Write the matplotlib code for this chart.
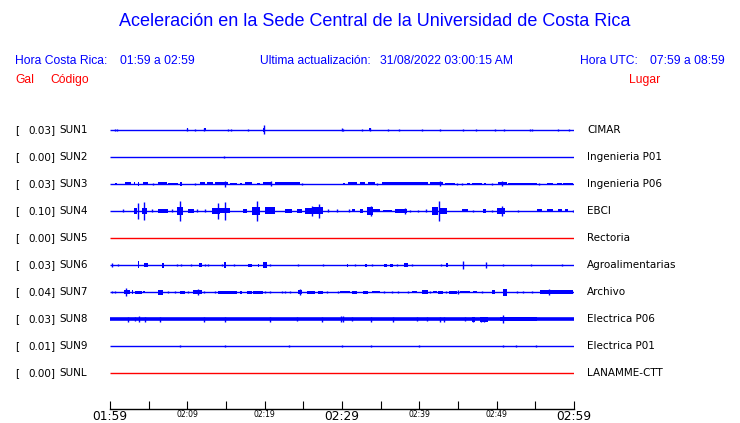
import matplotlib
matplotlib.use("Agg")
import matplotlib.pyplot as plt

# stations, top to bottom
codes = ["SUN1", "SUN2", "SUN3", "SUN4", "SUN5", "SUN6", "SUN7", "SUN8", "SUN9", "SUNL"]
peak_gal = [0.03, 0.00, 0.03, 0.10, 0.00, 0.03, 0.04, 0.03, 0.01, 0.00]
places = ["CIMAR", "Ingenieria P01", "Ingenieria P06", "EBCI", "Rectoria",
          "Agroalimentarias", "Archivo", "Electrica P06", "Electrica P01", "LANAMME-CTT"]
active = [True, True, True, True, False, True, True, True, True, False]

# time axis, minutes after 01:59
tick_minutes = list(range(0, 61, 5))
tick_labels = {0: "01:59", 10: "02:09", 20: "02:19", 30: "02:29",
               40: "02:39", 50: "02:49", 60: "02:59"}
big_labels = [0, 30, 60]

# spikes: (minute, half amplitude); bursts: (start, end, half amplitude)
spikes = {
    "SUN1": [(0.65, 1), (0.91, 1), (9.96, 1.5), (10.99, 1), (12.16, 1.5), (15.26, 1), (15.65, 1),
             (17.85, 1), (19.91, 4.5), (30.0, 1.5), (30.13, 1), (32.59, 1), (33.62, 1.5),
             (35.95, 1), (37.37, 1), (40.35, 0.8), (42.67, 1), (45.65, 1), (47.33, 1),
             (49.79, 1), (50.95, 1.2), (54.31, 1), (54.57, 1), (57.93, 1), (59.36, 1)],
    "SUN2": [(14.8, 1)],
    "SUN3": [(5.56, 1), (10.99, 1), (14.87, 3), (20.82, 2.5), (24.83, 1), (34.53, 1),
             (42.67, 2.5), (44.87, 1), (45.52, 1), (49.40, 1), (50.69, 2.5), (55.48, 1)],
    "SUN4": [(1.68, 1.5), (3.62, 8), (4.40, 9), (5.43, 1.5), (8.02, 1.5), (9.05, 10),
             (11.25, 1.5), (12.28, 1.5), (13.97, 8), (14.87, 9), (19.01, 10), (26.12, 5),
             (27.03, 7), (28.19, 1.5), (29.35, 1.5), (30.91, 1.5), (33.75, 5), (38.15, 3),
             (38.79, 1), (39.83, 1), (40.86, 1.5), (42.54, 10), (46.94, 1), (49.40, 1),
             (50.69, 5), (52.76, 1), (59.87, 1)],
    "SUN6": [(0.26, 2), (1.03, 1.5), (8.66, 1.5), (9.18, 1), (10.47, 1), (12.28, 1.5),
             (12.67, 1), (14.48, 1), (16.04, 1), (20.69, 1.5), (24.31, 1), (27.54, 1.5),
             (31.68, 1), (33.88, 1), (37.11, 1), (39.05, 1), (42.80, 1.5), (45.65, 4),
             (48.62, 3), (50.82, 1.5), (54.44, 1.5), (58.45, 1.5)],
    "SUN7": [(0.26, 1), (0.65, 1), (2.07, 4), (7.50, 1), (8.41, 1), (10.09, 1), (11.38, 3),
             (12.16, 1), (13.58, 1), (20.04, 1), (20.69, 1), (22.24, 1), (22.63, 1),
             (23.28, 1), (24.57, 3), (28.06, 1), (29.48, 1), (35.43, 1), (36.47, 1),
             (37.24, 1), (38.54, 1), (41.38, 1), (43.45, 1), (45.00, 2), (48.10, 1),
             (52.63, 1), (53.41, 1), (54.57, 1), (56.77, 3)],
    "SUN8": [(2.33, 2.5), (3.23, 2.2), (3.75, 3), (4.53, 2.5), (6.47, 2.5), (12.16, 2.5),
             (14.87, 2.5), (20.69, 2.5), (24.18, 2), (27.41, 2.5), (29.87, 3), (30.13, 3),
             (31.29, 2.2), (33.75, 2.5), (36.60, 2.5), (39.70, 2), (40.99, 2), (42.67, 2.5),
             (43.19, 2.5), (45.91, 2), (46.94, 2.5), (47.98, 2.5), (48.36, 2.5), (50.82, 4)],
    "SUN9": [(9.05, 1), (14.87, 1), (23.15, 1), (30.0, 1), (33.75, 1), (39.96, 1),
             (50.82, 1.2), (52.50, 1.2), (55.09, 1)],
}
bursts = {
    "SUN1": [(9.96, 10.09, 1.5), (12.10, 12.36, 1.5), (19.79, 20.05, 2), (33.55, 33.70, 1.5)],
    "SUN3": [(0.65, 0.91, 1), (1.94, 2.72, 1.5), (3.10, 3.23, 1.5), (3.62, 3.75, 2),
             (4.27, 4.91, 1.5), (6.21, 7.37, 1.5), (7.50, 8.79, 1.2), (9.05, 9.31, 2),
             (11.64, 12.28, 1.5), (12.54, 13.32, 1.5), (13.58, 15.26, 1.5), (15.52, 16.42, 1.2),
             (16.81, 17.07, 1.2), (17.46, 18.36, 1.5), (19.01, 19.40, 1.2), (19.79, 20.95, 1.5),
             (21.34, 24.57, 1.5), (30.13, 30.39, 1), (30.78, 31.94, 1.5), (32.33, 32.97, 1.5),
             (33.36, 34.27, 1.5), (35.17, 41.12, 1.5), (41.38, 43.06, 1.5), (43.32, 44.61, 1.2),
             (46.17, 46.55, 1.2), (46.81, 48.10, 1.2), (48.36, 48.62, 1.2), (50.17, 51.34, 1.5),
             (51.47, 55.22, 1.2), (56.51, 57.29, 1.2), (57.80, 58.45, 1.2), (58.58, 59.87, 1.2)],
    "SUN4": [(3.10, 3.49, 3), (4.14, 4.78, 3), (6.21, 7.50, 2), (8.66, 9.44, 4),
             (10.09, 10.86, 2), (13.19, 14.22, 3), (14.22, 15.52, 2.5), (17.20, 17.72, 2),
             (18.36, 19.40, 4), (20.04, 21.34, 3.5), (22.63, 23.54, 2), (24.18, 24.83, 2),
             (25.22, 26.12, 3), (26.25, 27.54, 3.5), (31.29, 31.68, 1.5), (32.33, 32.72, 2),
             (33.23, 34.01, 4), (34.01, 34.91, 1.5), (35.30, 36.47, 1.2), (36.85, 38.41, 2),
             (41.64, 42.41, 4), (42.67, 43.58, 3), (45.52, 46.29, 1.5), (48.23, 48.62, 2),
             (50.04, 51.08, 3), (55.22, 55.86, 1.5), (56.51, 57.29, 1.5), (57.93, 58.45, 1.5),
             (58.84, 59.23, 1.5)],
    "SUN6": [(3.62, 3.75, 3.5), (4.40, 4.91, 2), (6.72, 6.98, 2.5), (11.51, 11.90, 2),
             (14.74, 15.00, 3), (17.85, 18.36, 1.5), (19.14, 19.27, 1.5), (19.79, 20.30, 3),
             (30.65, 30.78, 1.5), (32.97, 33.23, 1.5), (35.43, 35.82, 1.5), (36.21, 36.60, 1.5),
             (38.02, 38.54, 2), (43.45, 43.71, 2)],
    "SUN7": [(1.81, 2.59, 2), (2.84, 2.97, 2), (3.23, 4.14, 1.5), (4.27, 4.53, 1.2),
             (6.21, 6.85, 2.5), (9.05, 9.70, 1.5), (10.73, 11.90, 2), (13.97, 16.42, 1.5),
             (16.81, 17.07, 1.5), (17.72, 18.36, 1.5), (18.49, 19.79, 1.5), (24.31, 24.83, 2),
             (25.47, 26.51, 1.5), (26.90, 27.54, 1.5), (29.74, 31.04, 1), (31.29, 31.94, 1.5),
             (32.72, 33.36, 1.5), (33.88, 34.91, 1.2), (39.05, 39.70, 1.2), (40.35, 41.12, 2),
             (41.77, 42.28, 1.2), (42.41, 43.06, 1.5), (43.84, 44.87, 1.5), (45.26, 46.55, 1.2),
             (46.94, 47.46, 1), (49.40, 49.79, 2), (50.82, 51.34, 3.5), (55.60, 59.87, 2)],
    "SUN8": [(46.81, 47.20, 2.5), (47.85, 48.88, 2.5), (50.43, 55.22, 2.3)],
}

W, H = 740, 423
blue = "#0000ff"
red = "#ff0000"
row_px = 27.0  # amplitude units per row spacing

fig = plt.figure(figsize=(W / 100, H / 100), dpi=100)


def fx(x):
    return x / W


def fy(y):
    return 1 - y / H


# trace axes: x 110..574 px, bottom spine at y 409 px, rows from y 130 px every 27 px
top_px, bot_px = 103, 409
ax = fig.add_axes([fx(110), fy(bot_px), (574 - 110) / W, (bot_px - top_px) / H])
ax.set_xlim(0, 60)
ax.set_ylim((bot_px - 130) / row_px, (top_px - 130) / row_px)

for i, code in enumerate(codes):
    col = blue if active[i] else red
    lw = 2.6 if code == "SUN8" else 1.0
    ax.hlines(i, 0, 60, color=col, lw=lw)
    for t0, t1, a in bursts.get(code, []):
        ax.bar(t0, 2 * a / row_px, width=max(t1 - t0, 0.13), bottom=i - a / row_px,
               align="edge", color=col, lw=0)
    sp = spikes.get(code, [])
    if sp:
        ax.vlines([t for t, a in sp], [i - a / row_px for t, a in sp],
                  [i + a / row_px for t, a in sp], color=col, lw=1.0)

    y = 130 + i * 27
    fig.text(fx(15), fy(y), "[", fontsize=7.5, va="center", ha="left")
    fig.text(fx(55.5), fy(y), f"{peak_gal[i]:.2f}]", fontsize=7.5, va="center", ha="right")
    fig.text(fx(59), fy(y), code, fontsize=7.5, va="center", ha="left")
    fig.text(fx(587), fy(y), places[i], fontsize=7.5, va="center", ha="left")

for s in ["top", "left", "right"]:
    ax.spines[s].set_visible(False)
ax.spines["bottom"].set_linewidth(1.0)
ax.set_yticks([])
ax.set_xticks(tick_minutes)
ax.set_xticklabels([tick_labels.get(m, "") for m in tick_minutes])
ax.tick_params(axis="x", direction="in", length=6, width=0.8, pad=1)
for m, lab in zip(tick_minutes, ax.get_xticklabels()):
    if m in big_labels:
        lab.set_fontsize(8.8)
    else:
        lab.set_fontsize(5.5)

# header
hdr = ["Liberation Sans", "DejaVu Sans"]
hs = 8.7
fig.text(fx(375), fy(22), "Aceleración en la Sede Central de la Universidad de Costa Rica",
         fontsize=13, color=blue, ha="center", va="center", family=hdr)
fig.text(fx(15), fy(61), "Hora Costa Rica:", fontsize=hs, color=blue, va="center", family=hdr)
fig.text(fx(120), fy(61), "01:59 a 02:59", fontsize=hs, color=blue, va="center", family=hdr)
fig.text(fx(260), fy(61), "Ultima actualización:", fontsize=hs, color=blue, va="center", family=hdr)
fig.text(fx(380), fy(61), "31/08/2022 03:00:15 AM", fontsize=hs, color=blue, va="center", family=hdr)
fig.text(fx(580), fy(61), "Hora UTC:", fontsize=hs, color=blue, va="center", family=hdr)
fig.text(fx(725), fy(61), "07:59 a 08:59", fontsize=hs, color=blue, va="center", ha="right", family=hdr)
fig.text(fx(15), fy(80), "Gal", fontsize=hs, color=red, va="center", family=hdr)
fig.text(fx(50), fy(80), "Código", fontsize=hs, color=red, va="center", family=hdr)
fig.text(fx(629), fy(80), "Lugar", fontsize=hs, color=red, va="center", family=hdr)

fig.savefig("out.png", dpi=100)
